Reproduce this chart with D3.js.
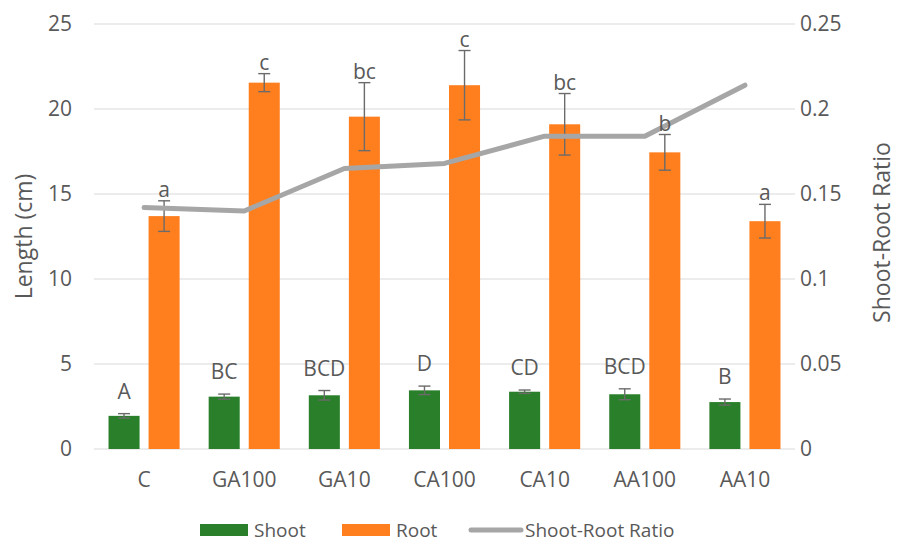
<!DOCTYPE html>
<html>
<head>
<meta charset="utf-8">
<script src="https://cdn.jsdelivr.net/npm/d3@7/dist/d3.min.js"></script>
<style>
  html, body { margin: 0; padding: 0; background: #fff; }
  svg { display: block; font-family: "Open Sans", sans-serif; }
</style>
</head>
<body>
<svg id="chart" width="897" height="542"></svg>
<script>
// Treatments
const categories = ["C", "GA100", "GA10", "CA100", "CA10", "AA100", "AA10"];

// Shoot length (cm), mean and error
const shootValues = [1.95, 3.08, 3.16, 3.45, 3.37, 3.22, 2.76];
const shootErrors = [0.13, 0.15, 0.28, 0.25, 0.10, 0.32, 0.18];
const shootLetters = ["A", "BC", "BCD", "D", "CD", "BCD", "B"];

// Root length (cm), mean and error
const rootValues = [13.7, 21.55, 19.55, 21.4, 19.1, 17.45, 13.4];
const rootErrors = [0.9, 0.53, 2.0, 2.04, 1.81, 1.05, 0.99];
const rootLetters = ["a", "c", "bc", "c", "bc", "b", "a"];

// Shoot-root ratio
const ratioValues = [0.142, 0.140, 0.165, 0.168, 0.184, 0.184, 0.214];

// Axis ticks
const leftTicks = [0, 5, 10, 15, 20, 25];
const rightTicks = [0, 0.05, 0.1, 0.15, 0.2, 0.25];

const seriesNames = ["Shoot", "Root", "Shoot-Root Ratio"];
const colors = { Shoot: "#2a7f2a", Root: "#ff7f1f", Ratio: "#a6a6a6" };
const textColor = "#595959";
const gridColor = "#d9d9d9";
const errColor = "#6b6b6b";

const svg = d3.select("#chart");
const plot = { left: 94, right: 795, top: 24, bottom: 449 };

const x = d3.scaleBand().domain(categories).range([plot.left, plot.right]).padding(0);
const xInner = d3.scaleBand().domain(["Shoot", "Root"])
  .range([x.bandwidth() * 0.145, x.bandwidth() * 0.855])
  .paddingInner(0.225).paddingOuter(0);
const y = d3.scaleLinear().domain([0, 25]).range([plot.bottom, plot.top]);
const yR = d3.scaleLinear().domain([0, 0.25]).range([plot.bottom, plot.top]);

// Gridlines
svg.append("g").selectAll("line").data(leftTicks).join("line")
  .attr("x1", plot.left).attr("x2", plot.right)
  .attr("y1", d => y(d)).attr("y2", d => y(d))
  .attr("stroke", gridColor).attr("stroke-width", 1.2);

// Left axis labels
const leftAxis = d3.axisLeft(y).tickValues(leftTicks).tickSize(0).tickPadding(22)
  .tickFormat(d3.format("d"));
const gL = svg.append("g").attr("transform", `translate(${plot.left},0)`).call(leftAxis);
gL.select(".domain").remove();
gL.selectAll("text").attr("fill", textColor).style("font-size", "21px")
  .style("font-family", "'Open Sans', sans-serif");

// Right axis labels
const rightAxis = d3.axisRight(yR).tickValues(rightTicks).tickSize(0).tickPadding(5)
  .tickFormat(d => d === 0 ? "0" : String(+d.toFixed(2)));
const gR = svg.append("g").attr("transform", `translate(${plot.right},0)`).call(rightAxis);
gR.select(".domain").remove();
gR.selectAll("text").attr("fill", textColor).style("font-size", "21px")
  .style("font-family", "'Open Sans', sans-serif");

// Category labels
const xAxis = d3.axisBottom(x).tickSize(0).tickPadding(23);
const gX = svg.append("g").attr("transform", `translate(0,${plot.bottom})`).call(xAxis);
gX.select(".domain").remove();
gX.selectAll("text").attr("fill", textColor).style("font-size", "21px")
  .style("font-family", "'Open Sans', sans-serif");

// Bars
const rows = categories.map((c, i) => ({
  cat: c,
  shoot: { v: shootValues[i], e: shootErrors[i], l: shootLetters[i] },
  root: { v: rootValues[i], e: rootErrors[i], l: rootLetters[i] }
}));

function barData(key, name) {
  return rows.map(r => ({ cat: r.cat, name, ...r[key] }));
}
const shootData = barData("shoot", "Shoot");
const rootData = barData("root", "Root");

const barLayer = svg.append("g");
[shootData, rootData].forEach(data => {
  barLayer.append("g").selectAll("rect").data(data).join("rect")
    .attr("x", d => x(d.cat) + xInner(d.name))
    .attr("width", xInner.bandwidth())
    .attr("y", d => y(d.v))
    .attr("height", d => y(0) - y(d.v))
    .attr("fill", d => colors[d.name]);
});

// Error bars
const errLayer = svg.append("g").attr("stroke", errColor).attr("stroke-width", 1.4);
[shootData, rootData].forEach(data => {
  const g = errLayer.append("g").selectAll("g").data(data).join("g")
    .attr("transform", d => `translate(${x(d.cat) + xInner(d.name) + xInner.bandwidth() / 2},0)`);
  g.append("line").attr("y1", d => y(d.v + d.e)).attr("y2", d => y(d.v - d.e));
  g.append("line").attr("x1", -6).attr("x2", 6).attr("y1", d => y(d.v + d.e)).attr("y2", d => y(d.v + d.e));
  g.append("line").attr("x1", -6).attr("x2", 6).attr("y1", d => y(d.v - d.e)).attr("y2", d => y(d.v - d.e));
});

// Ratio line
const line = d3.line()
  .x((d, i) => x(categories[i]) + x.bandwidth() / 2)
  .y(d => yR(d));
svg.append("path").datum(ratioValues)
  .attr("d", line).attr("fill", "none")
  .attr("stroke", colors.Ratio).attr("stroke-width", 5)
  .attr("stroke-linejoin", "round").attr("stroke-linecap", "round");

// Significance letters
const labelLayer = svg.append("g").attr("fill", textColor)
  .attr("text-anchor", "middle").style("font-size", "21px");
labelLayer.selectAll("text.s").data(shootData).join("text").attr("class", "s")
  .attr("x", d => x(d.cat) + xInner(d.name) + xInner.bandwidth() / 2)
  .attr("y", d => y(d.v + d.e) - 15)
  .text(d => d.l);
labelLayer.selectAll("text.r").data(rootData).join("text").attr("class", "r")
  .attr("x", d => x(d.cat) + xInner(d.name) + xInner.bandwidth() / 2)
  .attr("y", d => y(d.v + d.e) - 4)
  .text(d => d.l);

// Axis titles
svg.append("text")
  .attr("transform", `translate(32,${(plot.top + plot.bottom) / 2}) rotate(-90)`)
  .attr("text-anchor", "middle").attr("fill", textColor).style("font-size", "23px")
  .text("Length (cm)");
svg.append("text")
  .attr("transform", `translate(890,${(plot.top + plot.bottom) / 2 - 4}) rotate(-90)`)
  .attr("text-anchor", "middle").attr("fill", textColor).style("font-size", "23px")
  .text("Shoot-Root Ratio");

// Legend
const legend = svg.append("g").attr("transform", "translate(0,530)");
const legendItems = [
  { name: seriesNames[0], type: "rect", color: colors.Shoot, x: 200 },
  { name: seriesNames[1], type: "rect", color: colors.Root, x: 342 },
  { name: seriesNames[2], type: "line", color: colors.Ratio, x: 470 }
];
legendItems.forEach(it => {
  const g = legend.append("g").attr("transform", `translate(${it.x},0)`);
  if (it.type === "rect") {
    g.append("rect").attr("x", 0).attr("y", -6).attr("width", 48).attr("height", 12).attr("fill", it.color);
  } else {
    g.append("line").attr("x1", 1).attr("x2", 51).attr("y1", 0).attr("y2", 0)
      .attr("stroke", it.color).attr("stroke-width", 5).attr("stroke-linecap", "round");
  }
  g.append("text").attr("x", it.type === "rect" ? 54 : 55).attr("y", 0).attr("dy", "0.35em")
    .attr("fill", textColor).style("font-size", "19px").text(it.name);
});
</script>
</body>
</html>
